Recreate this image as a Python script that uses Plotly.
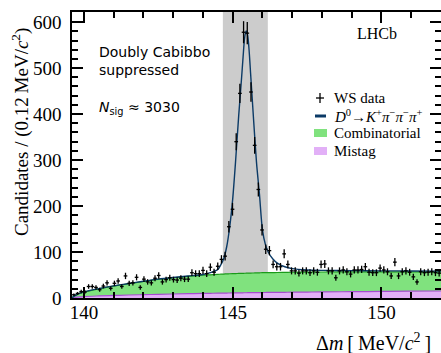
import numpy as np
import plotly.graph_objects as go

# ---- binned WS data: 100 bins of width 0.124 MeV starting at 139.6 MeV ----
bin_lo = 139.6
bin_w = 0.124
counts = [7, 10, 14, 13, 25, 25, 23, 18, 26, 33,
          21, 32, 37, 25, 48, 32, 33, 45, 23, 41,
          35, 33, 43, 49, 35, 40, 44, 40, 39, 43,
          41, 41, 55, 53, 53, 60, 53, 67, 56, 69,
          84, 91, 155, 193, 340, 445, 578, 576, 448, 332,
          236, 148, 106, 103, 73, 68, 68, 96, 73, 59,
          59, 54, 59, 59, 55, 59, 56, 73, 74, 59,
          59, 44, 59, 61, 57, 52, 61, 61, 62, 68,
          56, 55, 55, 65, 61, 57, 48, 78, 48, 57,
          59, 56, 46, 35, 57, 55, 56, 57, 55, 54]

# ---- fit components sampled along delta m ----
m_fit = [139.6, 139.7, 139.85, 140.0, 140.5, 141.0, 141.5, 142.0, 142.5, 143.0,
         143.5, 144.0, 144.25, 144.5, 144.6, 144.7, 144.8, 144.9, 145.0, 145.1,
         145.2, 145.3, 145.35, 145.4, 145.45, 145.5, 145.55, 145.6, 145.7, 145.8,
         145.9, 146.0, 146.1, 146.2, 146.35, 146.5, 146.75, 147.0, 147.5, 148.0,
         149.0, 150.0, 151.0, 152.0]
mistag = [0.5, 1.5, 2.5, 3.2, 4.5, 5.5, 6.5, 7.3, 8.0, 8.7,
          9.3, 9.9, 10.2, 10.5, 10.6, 10.7, 10.8, 10.9, 11.0, 11.1,
          11.2, 11.3, 11.35, 11.4, 11.45, 11.5, 11.55, 11.6, 11.7, 11.8,
          11.85, 11.9, 12.0, 12.05, 12.1, 12.2, 12.4, 12.6, 12.9, 13.2,
          13.8, 14.3, 14.8, 15.2]
combinatorial = [0.5, 3.5, 7.5, 9.8, 15.5, 20.5, 24.5, 28.7, 32.5, 35.3,
                 37.7, 39.6, 40.3, 41.0, 41.2, 41.4, 41.6, 41.8, 42.0, 42.1,
                 42.2, 42.3, 42.35, 42.4, 42.45, 42.5, 42.55, 42.6, 42.7, 42.8,
                 42.95, 43.1, 43.1, 43.15, 43.25, 43.3, 43.35, 43.4, 43.4, 43.3,
                 43.0, 42.7, 42.2, 41.8]
total_fit = [1, 5, 10, 13.3, 20.3, 26.3, 31.4, 36.4, 41, 44.6,
             47.8, 51, 55, 62, 72, 86, 112, 155, 215, 300,
             395, 480, 525, 565, 581, 572, 540, 490, 390, 295,
             225, 148, 116, 99, 85, 76, 68, 64, 61, 60,
             59.5, 59, 58.8, 58.5]

signal_window = (144.67, 146.18)
x_range = [139.6, 152.0]
y_range = [0, 622]

# colours
C_DATA = "black"
C_TOTAL = "#0b3a66"
C_COMB_FILL = "#80e27e"
C_COMB_LINE = "#1a9a1a"
C_MIS_FILL = "#e2b0f7"
C_MIS_LINE = "#a64bd0"
C_WINDOW = "#cccccc"

centers = bin_lo + bin_w * (np.arange(len(counts)) + 0.5)
errs = np.sqrt(np.array(counts, dtype=float))

W, H = 441, 353
L, R, T, B = 72, 0, 12, 55
PW, PH = W - L - R, H - T - B


def px(x):
    return (x - L) / PW


def py(y):
    return (H - B - y) / PH


fig = go.Figure()

fig.add_trace(go.Scatter(x=m_fit, y=mistag, stackgroup="bkg", mode="lines",
                         line=dict(color=C_MIS_LINE, width=1.2, shape="spline"),
                         fillcolor=C_MIS_FILL, name="Mistag", showlegend=False))
fig.add_trace(go.Scatter(x=m_fit, y=combinatorial, stackgroup="bkg", mode="lines",
                         line=dict(color=C_COMB_LINE, width=1.2, shape="spline"),
                         fillcolor=C_COMB_FILL, name="Combinatorial", showlegend=False))
fig.add_trace(go.Scatter(x=m_fit, y=total_fit, mode="lines",
                         line=dict(color=C_TOTAL, width=1.4, shape="spline", smoothing=0.8),
                         name="total", showlegend=False))
fig.add_trace(go.Scatter(x=centers, y=counts, mode="markers",
                         marker=dict(size=1, color=C_DATA),
                         error_y=dict(type="data", array=errs, thickness=1.3, width=0, color=C_DATA),
                         error_x=dict(type="constant", value=bin_w / 2, thickness=1.3, width=0, color=C_DATA),
                         name="WS data", showlegend=False))

fig.add_shape(type="rect", xref="x", yref="paper", x0=signal_window[0], x1=signal_window[1],
              y0=0, y1=1, fillcolor=C_WINDOW, line=dict(width=0), layer="below")

serif = "Liberation Serif"
sans = "DejaVu Sans"

axis_common = dict(showline=True, linecolor="black", linewidth=1.5, mirror="ticks",
                   ticks="inside", ticklen=11, tickwidth=1.5, tickcolor="black",
                   showgrid=False, zeroline=False,
                   tickfont=dict(family=serif, size=19, color="black"))

fig.update_xaxes(range=x_range, tick0=140, dtick=5, ticklabelstandoff=-4,
                 minor=dict(ticks="inside", ticklen=6, dtick=1, tickwidth=1.5, tickcolor="black"),
                 **axis_common)
fig.update_yaxes(range=y_range, tick0=0, dtick=100, ticklabelstandoff=5,
                 minor=dict(ticks="inside", ticklen=6, dtick=20, tickwidth=1.5, tickcolor="black"),
                 **axis_common)

ann = []
ann.append(dict(x=px(20), y=py(132), xref="paper", yref="paper", textangle=-90,
                text="Candidates / (0.12\u2009MeV/<i>c</i><sup>2</sup>)", showarrow=False,
                font=dict(family=serif, size=19, color="black"), xanchor="center", yanchor="middle"))
ann.append(dict(x=px(433), y=py(342), xref="paper", yref="paper",
                text="\u0394<i>m</i>\u2009[\u2009MeV/<i>c</i><sup>2</sup>\u2009]", showarrow=False,
                font=dict(family=serif, size=20, color="black"), xanchor="right", yanchor="middle"))
ann.append(dict(x=px(377), y=py(33), xref="paper", yref="paper", text="LHCb", showarrow=False,
                font=dict(family=serif, size=16, color="black"), xanchor="center", yanchor="middle"))
ann.append(dict(x=px(97), y=py(52), xref="paper", yref="paper", text="Doubly Cabibbo", showarrow=False,
                font=dict(family=sans, size=14, color="black"), xanchor="left", yanchor="middle"))
ann.append(dict(x=px(97), y=py(70), xref="paper", yref="paper", text="suppressed", showarrow=False,
                font=dict(family=sans, size=14, color="black"), xanchor="left", yanchor="middle"))
ann.append(dict(x=px(97), y=py(108), xref="paper", yref="paper",
                text="<i>N</i><sub>sig</sub> \u2248 3030", showarrow=False,
                font=dict(family=sans, size=14, color="black"), xanchor="left", yanchor="middle"))

# legend
leg_rows = [98, 116, 133, 151]
leg_text = ["WS data",
            "<i>D</i><sup>0</sup>\u2192<i>K</i><sup>+</sup><i>\u03c0</i><sup>\u2212</sup><i>\u03c0</i><sup>\u2212</sup><i>\u03c0</i><sup>+</sup>",
            "Combinatorial", "Mistag"]
for yy, tt in zip(leg_rows, leg_text):
    ann.append(dict(x=px(332), y=py(yy), xref="paper", yref="paper", text=tt, showarrow=False,
                    font=dict(family=serif, size=15, color="black"), xanchor="left", yanchor="middle"))
fig.update_layout(annotations=ann)

# legend keys
fig.add_shape(type="line", xref="paper", yref="paper", x0=px(316), x1=px(324), y0=py(98), y1=py(98),
              line=dict(color=C_DATA, width=1.3))
fig.add_shape(type="line", xref="paper", yref="paper", x0=px(320), x1=px(320), y0=py(93), y1=py(103),
              line=dict(color=C_DATA, width=1.3))
fig.add_shape(type="line", xref="paper", yref="paper", x0=px(315), x1=px(326), y0=py(116), y1=py(116),
              line=dict(color=C_TOTAL, width=3))
fig.add_shape(type="rect", xref="paper", yref="paper", x0=px(314), x1=px(327), y0=py(137), y1=py(129),
              fillcolor=C_COMB_FILL, line=dict(width=0))
fig.add_shape(type="rect", xref="paper", yref="paper", x0=px(314), x1=px(327), y0=py(155), y1=py(147),
              fillcolor=C_MIS_FILL, line=dict(width=0))

fig.update_layout(width=W, height=H, margin=dict(l=L, r=R, t=T, b=B, autoexpand=False),
                  paper_bgcolor="white", plot_bgcolor="white", showlegend=False)

fig.write_html("out.html")
